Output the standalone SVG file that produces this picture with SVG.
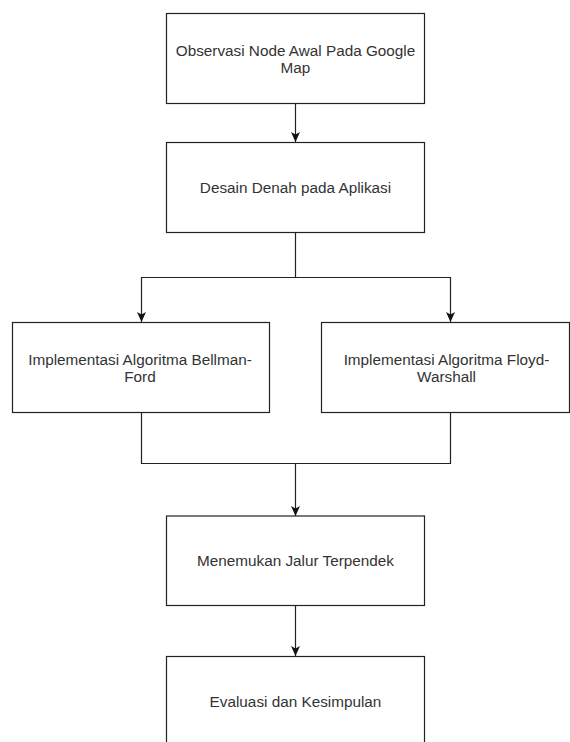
<svg xmlns="http://www.w3.org/2000/svg" width="570" height="742" viewBox="0 0 570 742">
  <style>
    .box { fill: #ffffff; stroke: #222222; stroke-width: 1.2; }
    .lbl { font-family: "Liberation Sans", Arial, sans-serif; font-size: 15.3px; fill: #333333; text-anchor: middle; }
    .edge { fill: none; stroke: #222222; stroke-width: 1.2; }
  </style>
  <defs>
    <marker id="arrow" viewBox="0 0 10 10" refX="10" refY="5" markerWidth="10" markerHeight="10" markerUnits="userSpaceOnUse" orient="auto">
      <path d="M0,0.5 L10,5 L0,9.5 L2.5,5 Z" fill="#111111"/>
    </marker>
  </defs>
  <rect width="570" height="742" fill="#ffffff"/>

  <g id="connectors">
    <path class="edge" d="M295.5,103.5 L295.5,142" marker-end="url(#arrow)"/>
    <path class="edge" d="M295.5,232.5 L295.5,277.5 L141.5,277.5 L141.5,322" marker-end="url(#arrow)"/>
    <path class="edge" d="M295.5,277.5 L450.5,277.5 L450.5,322" marker-end="url(#arrow)"/>
    <path class="edge" d="M141.5,412.5 L141.5,463.5 L295.5,463.5 L295.5,516" marker-end="url(#arrow)"/>
    <path class="edge" d="M450.5,412.5 L450.5,463.5 L295.5,463.5"/>
    <path class="edge" d="M295.5,605.5 L295.5,656" marker-end="url(#arrow)"/>
  </g>

  <g id="node1">
    <rect class="box" x="166.5" y="13.5" width="258" height="90"/>
    <text class="lbl" x="295.5" y="56">Observasi Node Awal Pada Google</text>
    <text class="lbl" x="295.5" y="73">Map</text>
  </g>
  <g id="node2">
    <rect class="box" x="166.5" y="142.5" width="258" height="90"/>
    <text class="lbl" x="295.5" y="193">Desain Denah pada Aplikasi</text>
  </g>
  <g id="node3">
    <rect class="box" x="12.5" y="322.5" width="257" height="90"/>
    <text class="lbl" x="140" y="365">Implementasi Algoritma Bellman-</text>
    <text class="lbl" x="140" y="382">Ford</text>
  </g>
  <g id="node4">
    <rect class="box" x="321.5" y="322.5" width="248" height="90"/>
    <text class="lbl" x="446.5" y="365">Implementasi Algoritma Floyd-</text>
    <text class="lbl" x="446.5" y="382">Warshall</text>
  </g>
  <g id="node5">
    <rect class="box" x="166.5" y="516" width="258" height="89.5"/>
    <text class="lbl" x="295.5" y="566">Menemukan Jalur Terpendek</text>
  </g>
  <g id="node6">
    <rect class="box" x="166.5" y="656.5" width="258" height="90"/>
    <text class="lbl" x="295.5" y="707">Evaluasi dan Kesimpulan</text>
  </g>
</svg>
